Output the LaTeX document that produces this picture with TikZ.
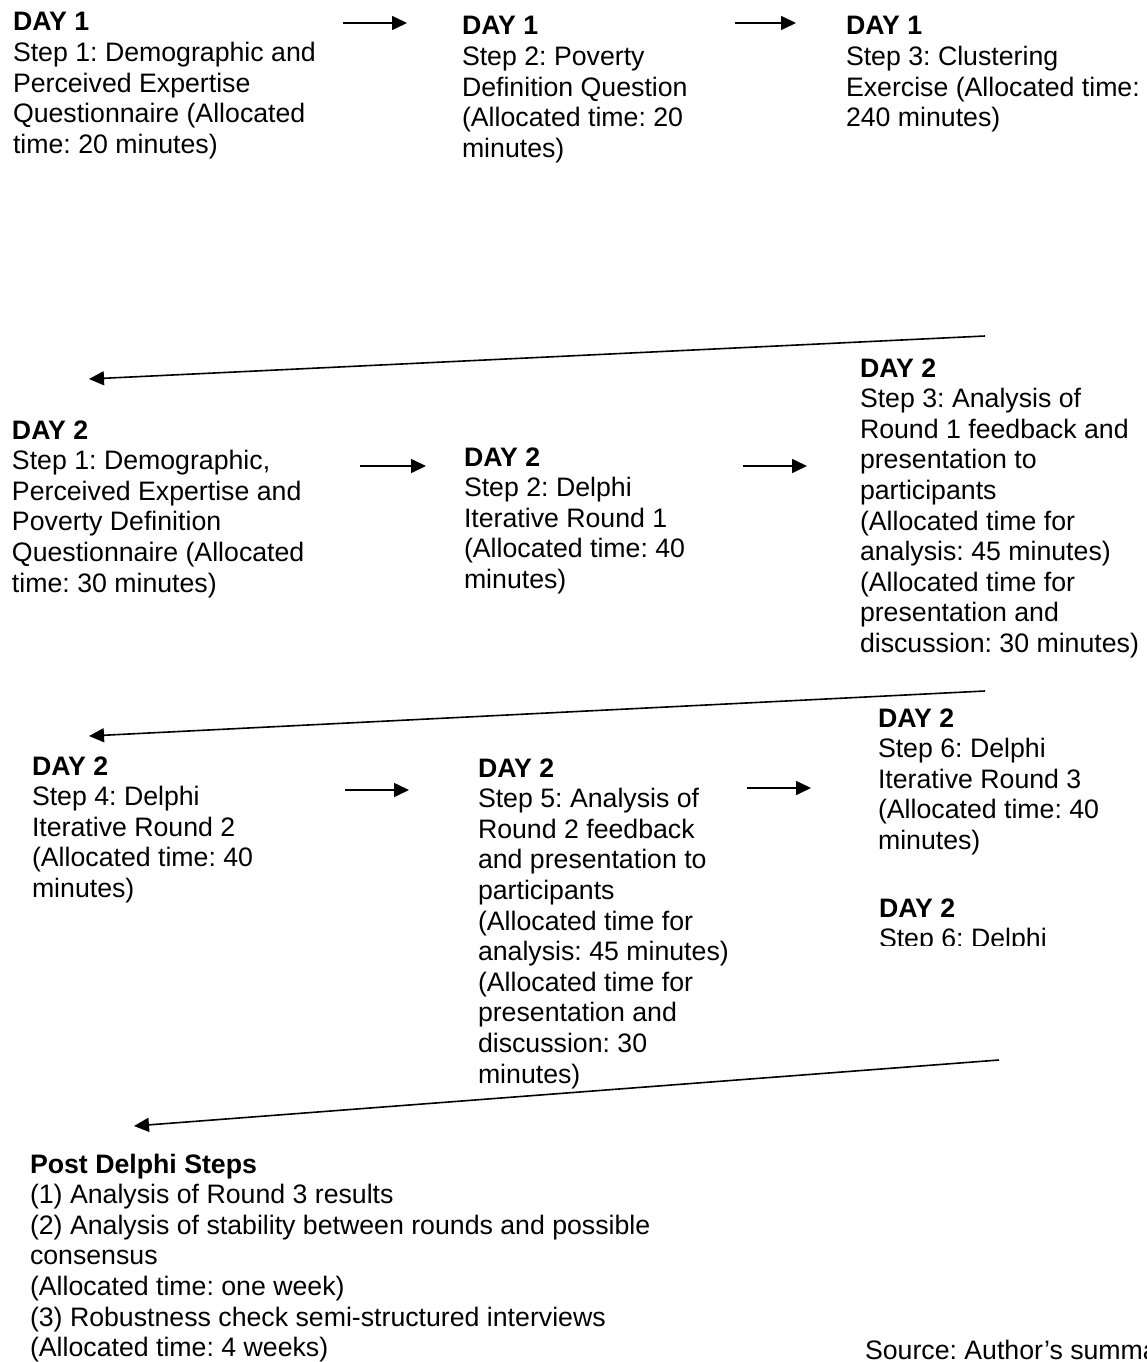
\documentclass[tikz,border=0pt]{standalone}
\usepackage{fontspec}
\setmainfont{Liberation Sans}
\usetikzlibrary{arrows.meta}
\frenchspacing
\newcommand\blocktext[1]{\begin{tabular}[t]{@{}l@{}}#1\end{tabular}}
\tikzset{
  txt/.style={anchor=base west, inner sep=0pt, outer sep=0pt,
    font=\fontsize{26.7}{30.6}\selectfont},
  flow/.style={-{Triangle[length=15pt,width=14pt]}, line width=1.6pt},
}
\begin{document}
\begin{tikzpicture}[x=1pt,y=-1pt]
\useasboundingbox (0,0) rectangle (1146,1362);
\clip (0,0) rectangle (1146,1362);

% ---- Day 1 ----
\node[txt] (d1s1) at (13,31) {\blocktext{\textbf{DAY 1}\\Step 1: Demographic and\\Perceived Expertise\\Questionnaire (Allocated\\time: 20 minutes)}};
\node[txt] (d1s2) at (462,35) {\blocktext{\textbf{DAY 1}\\Step 2: Poverty\\Definition Question\\(Allocated time: 20\\minutes)}};
\node[txt] (d1s3) at (846,35) {\blocktext{\textbf{DAY 1}\\Step 3: Clustering\\Exercise (Allocated time:\\240 minutes)}};

% ---- Day 2, first row ----
\node[txt] (d2s1) at (12,439) {\blocktext{\textbf{DAY 2}\\Step 1: Demographic,\\Perceived Expertise and\\Poverty Definition\\Questionnaire (Allocated\\time: 30 minutes)}};
\node[txt] (d2s2) at (464,466) {\blocktext{\textbf{DAY 2}\\Step 2: Delphi\\Iterative Round 1\\(Allocated time: 40\\minutes)}};
\node[txt] (d2s3) at (860,377) {\blocktext{\textbf{DAY 2}\\Step 3: Analysis of\\Round 1 feedback and\\presentation to\\participants\\(Allocated time for\\analysis: 45 minutes)\\(Allocated time for\\presentation and\\discussion: 30 minutes)}};

% ---- Day 2, second row ----
\node[txt] (d2s4) at (32,775) {\blocktext{\textbf{DAY 2}\\Step 4: Delphi\\Iterative Round 2\\(Allocated time: 40\\minutes)}};
\node[txt] (d2s5) at (478,777) {\blocktext{\textbf{DAY 2}\\Step 5: Analysis of\\Round 2 feedback\\and presentation to\\participants\\(Allocated time for\\analysis: 45 minutes)\\(Allocated time for\\presentation and\\discussion: 30\\minutes)}};
\node[txt] (d2s6) at (878,727) {\blocktext{\textbf{DAY 2}\\Step 6: Delphi\\Iterative Round 3\\(Allocated time: 40\\minutes)}};
\begin{scope}
  \clip (860,880) rectangle (1146,945);
  \node[txt] (d2s6b) at (879,917) {\blocktext{\textbf{DAY 2}\\Step 6: Delphi}};
\end{scope}

% ---- Post Delphi ----
\node[txt] (post) at (30,1173) {\blocktext{\textbf{Post Delphi Steps}\\(1) Analysis of Round 3 results\\(2) Analysis of stability between rounds and possible\\consensus\\(Allocated time: one week)\\(3) Robustness check semi-structured interviews\\(Allocated time: 4 weeks)}};
\node[txt] (src) at (865,1359) {Source: Author’s summa};

% ---- arrow end points ----
\coordinate (a1s) at (343,23);  \coordinate (a1e) at (407,23);
\coordinate (a2s) at (735,23);  \coordinate (a2e) at (796,23);
\coordinate (r1s) at (985,336); \coordinate (r1e) at (89,379);
\coordinate (a3s) at (360,466); \coordinate (a3e) at (426,466);
\coordinate (a4s) at (743,466); \coordinate (a4e) at (807,466);
\coordinate (r2s) at (985,691); \coordinate (r2e) at (89,736);
\coordinate (a5s) at (345,790); \coordinate (a5e) at (409,790);
\coordinate (a6s) at (747,788); \coordinate (a6e) at (811,788);
\coordinate (r3s) at (999,1060); \coordinate (r3e) at (134,1126);

% ---- arrows ----
\draw[flow] (a1s) -- (a1e);
\draw[flow] (a2s) -- (a2e);
\draw[flow] (r1s) -- (r1e);
\draw[flow] (a3s) -- (a3e);
\draw[flow] (a4s) -- (a4e);
\draw[flow] (r2s) -- (r2e);
\draw[flow] (a5s) -- (a5e);
\draw[flow] (a6s) -- (a6e);
\draw[flow] (r3s) -- (r3e);
\end{tikzpicture}
\end{document}
